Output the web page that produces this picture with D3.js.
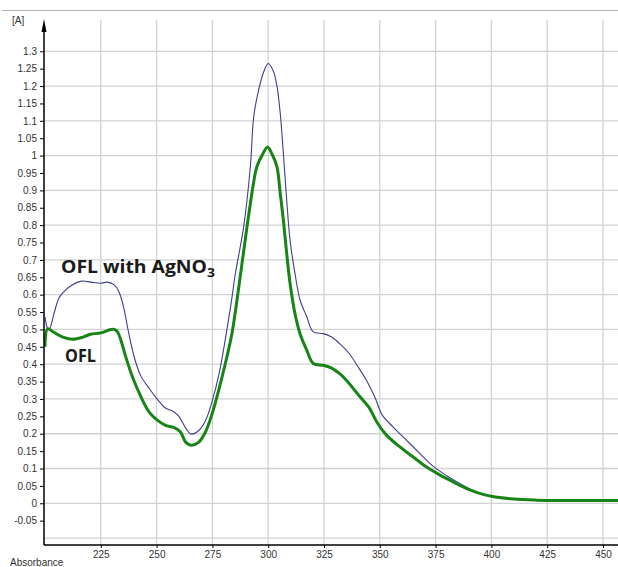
<!DOCTYPE html>
<html>
<head>
<meta charset="utf-8">
<script src="https://cdn.jsdelivr.net/npm/d3@7"></script>
<style>
  body { margin: 0; background: #fff; }
  svg { display: block; font-family: "Liberation Sans", Arial, sans-serif; }
</style>
</head>
<body>
<div id="chart"></div>
<script>
/* DATA */
// wavelength (nm) and absorbance
const wlAg = [200, 201, 201.8, 204, 206.2, 208.4, 212, 216.5, 220.5, 225, 228, 231, 233, 235, 237.5, 240, 243, 246.5, 250, 254, 257.5, 260, 263, 265.5, 269, 272, 275, 278, 281, 283.5, 285.3, 289, 292, 293.5, 295.7, 298, 300, 302.4, 304, 305.4, 306.8, 308.3, 309.8, 312, 314.3, 317.3, 320.2, 324.7, 328.4, 332, 336, 340, 344, 348, 351, 356, 362, 368, 374, 380, 386, 393, 400, 410, 420, 435, 458];
const absAg = [0.536, 0.505, 0.498, 0.545, 0.59, 0.608, 0.627, 0.639, 0.636, 0.633, 0.636, 0.628, 0.61, 0.57, 0.49, 0.42, 0.365, 0.332, 0.302, 0.274, 0.264, 0.25, 0.217, 0.199, 0.21, 0.239, 0.296, 0.373, 0.48, 0.58, 0.661, 0.795, 0.968, 1.111, 1.188, 1.241, 1.265, 1.241, 1.197, 1.121, 1.006, 0.871, 0.756, 0.661, 0.584, 0.536, 0.493, 0.488, 0.478, 0.459, 0.433, 0.395, 0.354, 0.302, 0.255, 0.219, 0.181, 0.143, 0.106, 0.079, 0.056, 0.033, 0.02, 0.012, 0.009, 0.008, 0.008];

const wlOfl = [200, 201.2, 203.7, 208, 212.5, 217, 220.4, 225, 229.5, 231, 232.5, 234, 236.2, 239.2, 243, 246.6, 250.3, 254, 257.7, 260.7, 263, 265.6, 268.9, 271.9, 274.9, 277.8, 280.8, 283.8, 287, 290.5, 293.4, 294.9, 297.2, 299.7, 301.6, 303.9, 305.4, 306.8, 308.3, 309.8, 312, 314.3, 317.3, 320.2, 324.7, 328, 332, 336, 340, 345, 349, 353, 359, 365, 371, 377, 383, 389, 394, 400, 410, 420, 435, 458];
const absOfl = [0.45, 0.502, 0.493, 0.478, 0.472, 0.478, 0.486, 0.49, 0.5, 0.5, 0.493, 0.469, 0.421, 0.363, 0.306, 0.263, 0.239, 0.224, 0.218, 0.205, 0.176, 0.167, 0.176, 0.205, 0.258, 0.325, 0.402, 0.49, 0.63, 0.795, 0.92, 0.968, 1.0, 1.025, 1.006, 0.968, 0.891, 0.814, 0.718, 0.632, 0.545, 0.487, 0.44, 0.402, 0.397, 0.39, 0.373, 0.347, 0.315, 0.277, 0.23, 0.196, 0.162, 0.133, 0.104, 0.081, 0.061, 0.042, 0.03, 0.02, 0.012, 0.009, 0.008, 0.008];

const xTicks = [225, 250, 275, 300, 325, 350, 375, 400, 425, 450];
const yTicks = [-0.05, 0, 0.05, 0.1, 0.15, 0.2, 0.25, 0.3, 0.35, 0.4, 0.45, 0.5, 0.55, 0.6, 0.65, 0.7, 0.75, 0.8, 0.85, 0.9, 0.95, 1, 1.05, 1.1, 1.15, 1.2, 1.25, 1.3];
const yGrid = [-0.1, 0, 0.1, 0.2, 0.3, 0.4, 0.5, 0.6, 0.7, 0.8, 0.9, 1, 1.1, 1.2, 1.3];

/* LAYOUT */
const W = 618, H = 567;
const plotLeft = 44, plotRight = 618, plotTop = 20, plotBottom = 545;

const xScale = d3.scaleLinear().domain([200, 450]).range([45, 603]);
const yScale = d3.scaleLinear().domain([-0.12, 1.39]).range([plotBottom, plotTop]);

const svg = d3.select("#chart").append("svg")
  .attr("width", W).attr("height", H);

// thin frame line at the very top
svg.append("line")
  .attr("x1", 2).attr("x2", W).attr("y1", 10.5).attr("y2", 10.5)
  .attr("stroke", "#b4b4b4").attr("stroke-width", 1);

/* GRID */
const grid = svg.append("g").attr("stroke", "#d2d2d2").attr("stroke-width", 1.3);
grid.selectAll("line.v").data(xTicks).enter().append("line")
  .attr("x1", (d) => xScale(d)).attr("x2", (d) => xScale(d))
  .attr("y1", plotTop).attr("y2", plotBottom);
grid.selectAll("line.h").data(yGrid).enter().append("line")
  .attr("x1", plotLeft).attr("x2", plotRight)
  .attr("y1", (d) => yScale(d)).attr("y2", (d) => yScale(d));

/* CURVES */
svg.append("clipPath").attr("id", "plotclip").append("rect")
  .attr("x", plotLeft).attr("y", plotTop)
  .attr("width", plotRight - plotLeft).attr("height", plotBottom - plotTop);

const line = d3.line()
  .x((d) => xScale(d[0]))
  .y((d) => yScale(d[1]))
  .curve(d3.curveCatmullRom);

const plot = svg.append("g").attr("clip-path", "url(#plotclip)");
plot.append("path")
  .datum(d3.zip(wlAg, absAg))
  .attr("d", line)
  .attr("fill", "none").attr("stroke", "#3e3e8c").attr("stroke-width", 1.1);
plot.append("path")
  .datum(d3.zip(wlOfl, absOfl))
  .attr("d", line)
  .attr("fill", "none").attr("stroke", "#168516").attr("stroke-width", 3)
  .attr("stroke-linejoin", "round");

/* AXES */
const yAxis = svg.append("g")
  .attr("transform", `translate(${plotLeft},0)`)
  .call(d3.axisLeft(yScale).tickValues(yTicks).tickSize(4).tickPadding(3)
    .tickFormat((d) => String(+d.toFixed(2))));
yAxis.select(".domain").remove();
yAxis.selectAll("text").attr("fill", "#333").style("font-size", "10px");

const xAxis = svg.append("g")
  .attr("transform", `translate(0,${plotBottom})`)
  .call(d3.axisBottom(xScale).tickValues(xTicks).tickSize(3).tickPadding(3));
xAxis.select(".domain").remove();
xAxis.selectAll("text").attr("fill", "#333").style("font-size", "10px");

// axis lines
svg.append("line")
  .attr("x1", plotLeft).attr("x2", plotRight).attr("y1", plotBottom).attr("y2", plotBottom)
  .attr("stroke", "#000").attr("stroke-width", 1.5);
svg.append("line")
  .attr("x1", plotLeft).attr("x2", plotLeft).attr("y1", plotTop + 4).attr("y2", plotBottom)
  .attr("stroke", "#000").attr("stroke-width", 1.5);
// arrow head on y axis
svg.append("path")
  .attr("d", `M${plotLeft},${plotTop - 1} L${plotLeft - 2.5},${plotTop + 12} L${plotLeft + 2.5},${plotTop + 12} Z`)
  .attr("fill", "#000");

/* TEXT */
svg.append("text").attr("x", 12).attr("y", 24)
  .style("font-size", "10px").attr("fill", "#333").text("[A]");
svg.append("text").attr("x", 10).attr("y", 566)
  .style("font-size", "10px").attr("fill", "#333").text("Absorbance");

const lab = svg.append("text").attr("x", 61).attr("y", 273)
  .style("font-family", "'Open Sans', sans-serif")
  .style("font-size", "18px").style("font-weight", "bold").attr("fill", "#1a1a1a")
  .attr("textLength", 154).attr("lengthAdjust", "spacingAndGlyphs");
lab.append("tspan").text("OFL with AgNO");
lab.append("tspan").attr("dy", 4).style("font-size", "13px").text("3");

svg.append("text").attr("x", 65).attr("y", 362)
  .style("font-family", "'Open Sans', sans-serif")
  .style("font-size", "18px").style("font-weight", "bold").attr("fill", "#1a1a1a")
  .attr("textLength", 31).attr("lengthAdjust", "spacingAndGlyphs")
  .text("OFL");
</script>
</body>
</html>
